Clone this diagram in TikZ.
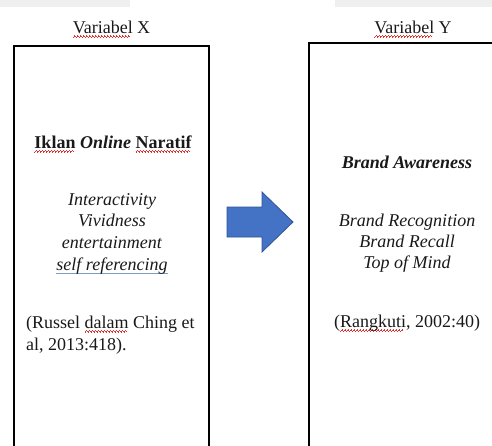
\documentclass[tikz,border=0pt]{standalone}
\usepackage{fontspec}
\setmainfont{Liberation Serif}
\definecolor{rulergrey}{HTML}{EFEFEF}
\definecolor{arrowblue}{HTML}{4472C4}
\definecolor{arrowedge}{HTML}{2F5597}
\definecolor{linkblue}{HTML}{7F9CC4}
\definecolor{squigred}{HTML}{E03030}
\newsavebox\sqbox
\newcommand\sqwave{\hbox{\rule[-4.6pt]{0.75pt}{0.8pt}\rule[-3.9pt]{0.75pt}{0.8pt}\rule[-3.2pt]{0.75pt}{0.8pt}\rule[-3.9pt]{0.75pt}{0.8pt}}}
\newcommand\sq[1]{\sbox\sqbox{#1}\rlap{\color{squigred}\leaders\sqwave\hskip\wd\sqbox}\usebox\sqbox}
\newcommand\bl[1]{\sbox\sqbox{#1}\rlap{\color{linkblue}\rule[-3.8pt]{\wd\sqbox}{1pt}}\usebox\sqbox}
\begin{document}
\begin{tikzpicture}[x=1pt,y=-1pt,
  txt/.style={inner sep=0pt,anchor=base,text=black!90,font=\fontsize{18}{21.5}\selectfont},
  boxline/.style={line width=2pt,draw=black}]
\useasboundingbox (0,0) rectangle (492,445);
\begin{scope}
  \clip (0,0) rectangle (492,445);
  \fill[rulergrey] (0,0) rectangle (130,7);
  \fill[rulergrey] (335,0) rectangle (492,7);
  \draw[boxline] (14,46) rectangle (209,470);
  \draw[boxline] (309,43) rectangle (506,470);
\end{scope}
% arrow
\draw[draw=arrowedge,fill=arrowblue,line width=0.8pt,line join=miter]
  (227,207) -- (262,207) -- (262,192) -- (293,222) -- (262,252) -- (262,237) -- (227,237) -- cycle;
% headings
\node[txt] (vx) at (111.5,33) {\sq{Variabel} X};
\node[txt] (vy) at (413,33) {\sq{Variabel} Y};
% left box
\node[txt] (iklan) at (113,148) {\textbf{\sq{Iklan} \textit{Online} \sq{Naratif}}};
\node[txt] (inter) at (112,205) {\textit{Interactivity}};
\node[txt] (vivid) at (112,226) {\textit{Vividness}};
\node[txt] (enter) at (112,248) {\textit{entertainment}};
\node[txt] (selfr) at (112,270) {\textit{\bl{self referencing}}};
\node[txt,anchor=base west] (russ1) at (26,328) {(Russel \sq{dalam} Ching et};
\node[txt,anchor=base west] (russ2) at (26,350) {al, 2013:418).};
% right box
\node[txt] (aware) at (407,168) {\textbf{\textit{Brand Awareness}}};
\node[txt] (recog) at (407,226) {\textit{Brand Recognition}};
\node[txt] (recall) at (407,247) {\textit{Brand Recall}};
\node[txt] (top) at (407,268) {\textit{Top of Mind}};
\node[txt] (rang) at (407,327) {(\sq{Rangkuti}, 2002:40)};
\end{tikzpicture}
\end{document}
